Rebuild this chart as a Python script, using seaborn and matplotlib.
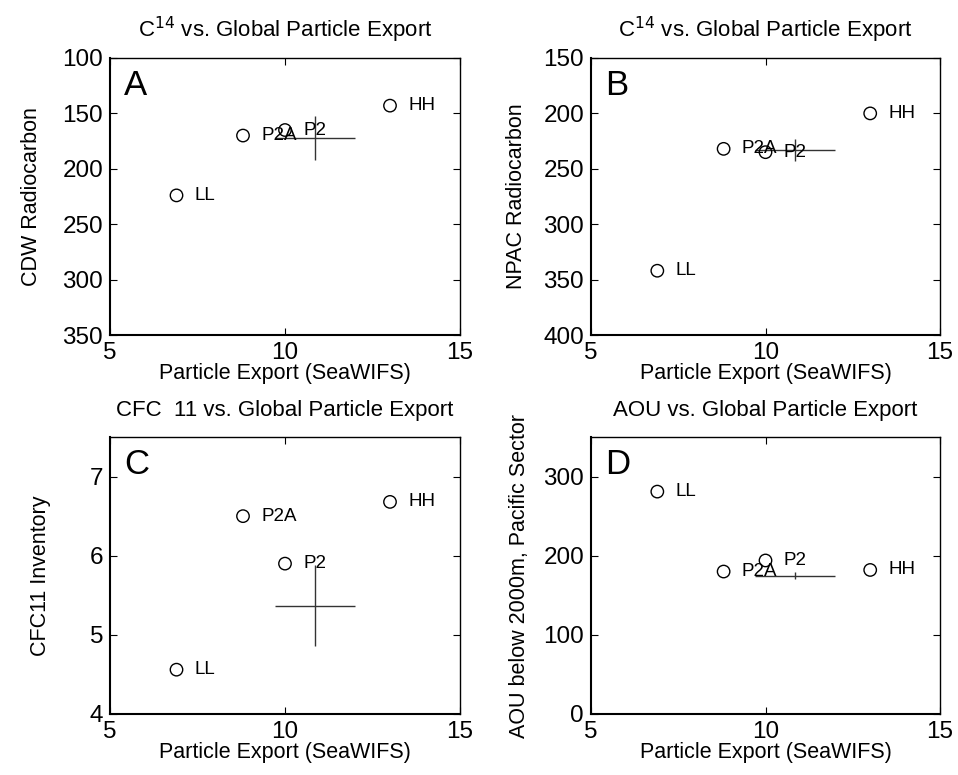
import numpy as np
import pandas as pd
import seaborn as sns
import matplotlib.pyplot as plt

# station data
stations = ['LL', 'P2A', 'P2', 'HH']
export = [6.9, 8.8, 10.0, 13.0]
cdw_c14 = [224, 170, 165, 143]
npac_c14 = [342, 232, 235, 200]
cfc11 = [4.56, 6.50, 5.90, 6.68]
aou = [281, 180, 194, 182]

# global mean cross for each panel (x, y, x err, y err)
cross_x = 10.85
cross_xerr = 1.15
cross_y = [172, 233, 5.37, 175]
cross_yerr = [20, 10, 0.51, 4]

panel_letters = ['A', 'B', 'C', 'D']
titles = ['C$^{14}$ vs. Global Particle Export',
          'C$^{14}$ vs. Global Particle Export',
          'CFC  11 vs. Global Particle Export',
          'AOU vs. Global Particle Export']
ylabels = ['CDW Radiocarbon', 'NPAC Radiocarbon', 'CFC11 Inventory',
           'AOU below 2000m, Pacific Sector']
ylims = [(100, 350), (150, 400), (4, 7.5), (0, 350)]
yticks = [[100, 150, 200, 250, 300, 350], [150, 200, 250, 300, 350, 400],
          [4, 5, 6, 7], [0, 100, 200, 300]]
inverted = [True, True, False, False]
xticks = [5, 10, 15]

sns.set_style('ticks')
plt.rcParams['font.family'] = ['Liberation Sans', 'DejaVu Sans']
plt.rcParams['xtick.direction'] = 'in'
plt.rcParams['ytick.direction'] = 'in'
for k in ['text.color', 'axes.labelcolor', 'xtick.color', 'ytick.color',
          'axes.edgecolor']:
    plt.rcParams[k] = 'black'

fig = plt.figure(figsize=(9.58, 7.75), dpi=100)
W, H = 958, 775
boxes = [(110, 58, 350, 277), (591, 58, 349, 277),
         (110, 437, 350, 277), (591, 437, 349, 277)]
ylabel_x = [-0.193, -0.182, -0.168, -0.175]

yvals = [cdw_c14, npac_c14, cfc11, aou]
for i in range(4):
    l, t, w, h = boxes[i]
    ax = fig.add_axes([l / W, 1 - (t + h) / H, w / W, h / H])
    df = pd.DataFrame({'x': export, 'y': yvals[i], 'name': stations})
    sns.scatterplot(data=df, x='x', y='y', ax=ax, marker='o', s=80,
                    facecolor='none', edgecolor='black', linewidth=1, zorder=3)
    for _, r in df.iterrows():
        ax.annotate(r['name'], (r['x'], r['y']), xytext=(13, 0),
                    textcoords='offset points', va='center', ha='left',
                    fontsize=13.5, zorder=4)
    ax.errorbar([cross_x], [cross_y[i]], xerr=cross_xerr, yerr=cross_yerr[i],
                fmt='none', ecolor='#333333', elinewidth=1, capsize=0, zorder=2)

    ax.set_xlim(5, 15)
    ax.set_xticks(xticks)
    ax.set_ylim(*ylims[i])
    ax.set_yticks(yticks[i])
    if inverted[i]:
        ax.invert_yaxis()
    ax.tick_params(labelsize=17.5, top=True, right=True, length=5, width=0.8,
                   pad=5)
    for s in ax.spines.values():
        s.set_linewidth(1)
        s.set_visible(True)
    ax.spines['left'].set_linewidth(1.5)
    ax.spines['bottom'].set_linewidth(1.5)
    ax.set_xlabel('Particle Export (SeaWIFS)', fontsize=15.5, labelpad=-1)
    ax.set_ylabel(ylabels[i], fontsize=15.5)
    ax.yaxis.set_label_coords(ylabel_x[i], 0.5)
    ax.set_title(titles[i], fontsize=16, pad=15,
                 family=['Liberation Sans Narrow', 'Liberation Sans'])
    ax.text(0.04, 0.96, panel_letters[i], transform=ax.transAxes,
            fontsize=25, va='top', ha='left')

fig.savefig('out.png', dpi=100)
